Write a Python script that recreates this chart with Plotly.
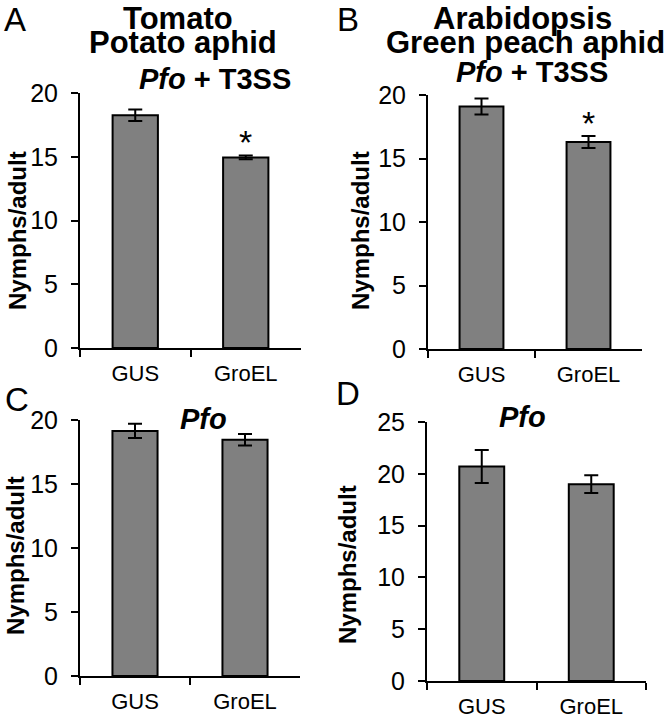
import plotly.graph_objects as go

# ---------------- data ----------------
categories = ["GUS", "GroEL"]
a_values = [18.25, 14.95]
a_errors = [0.45, 0.15]
b_values = [19.1, 16.3]
b_errors = [0.63, 0.48]
c_values = [19.15, 18.45]
c_errors = [0.55, 0.45]
d_values = [20.7, 19.0]
d_errors = [1.6, 0.85]
a_sig = [False, True]
b_sig = [False, True]
y_ticks_20 = [0, 5, 10, 15, 20]
y_ticks_25 = [0, 5, 10, 15, 20, 25]
y_label = "Nymphs/adult"

W, H = 667, 721
FONT = "Liberation Sans, Arial, Helvetica, sans-serif"


def px(x):
    return x / W


def py(y):
    return 1 - y / H


fig = go.Figure()

panels = [
    (a_values, a_errors, a_sig, (80, 301), (93, 348), 20, y_ticks_20),
    (b_values, b_errors, b_sig, (428, 642), (95, 349), 20, y_ticks_20),
    (c_values, c_errors, None, (80, 300), (420, 676), 20, y_ticks_20),
    (d_values, d_errors, None, (427, 646), (422, 681), 25, y_ticks_25),
]

annotations = []
for i, (vals, errs, sig, xd, yd, ymax, ticks) in enumerate(panels):
    n = "" if i == 0 else str(i + 1)
    fig.add_trace(go.Bar(
        x=categories, y=vals, width=0.41,
        marker=dict(color="#808080", line=dict(color="black", width=2)),
        error_y=dict(type="data", array=errs, color="black", thickness=2, width=7),
        xaxis="x" + n, yaxis="y" + n, showlegend=False,
    ))
    fig.update_layout(**{
        "xaxis" + n: dict(
            domain=[px(xd[0]), px(xd[1])], anchor="y" + n,
            type="category", range=[-0.5, 1.5], automargin=False,
            showline=True, linecolor="black", linewidth=2,
            ticks="outside", tickson="boundaries", ticklen=7, tickwidth=2,
            tickcolor="black", showgrid=False, zeroline=False,
            tickfont=dict(family=FONT, size=22, color="black"),
            ticklabelstandoff=5,
        ),
        "yaxis" + n: dict(
            domain=[py(yd[1]), py(yd[0])], anchor="x" + n,
            range=[0, ymax], tickvals=ticks, automargin=False,
            showline=True, linecolor="black", linewidth=2,
            ticks="outside", ticklen=7, tickwidth=2, tickcolor="black",
            showgrid=False, zeroline=False,
            tickfont=dict(family=FONT, size=25, color="black"),
            ticklabelstandoff=8,
        ),
    })
    if sig is not None:
        for c, v, e, s in zip(categories, vals, errs, sig):
            if s:
                annotations.append(dict(
                    x=c, y=v + e, xref="x" + n, yref="y" + n,
                    text="*", showarrow=False, yanchor="bottom",
                    yshift=-8,
                    font=dict(family=FONT, size=34, color="black"),
                ))

# y-axis titles
for (xc, yc) in [(17, 231), (360, 231), (15, 556), (347, 565)]:
    annotations.append(dict(
        x=px(xc), y=py(yc), xref="paper", yref="paper",
        text="<b>" + y_label + "</b>", textangle=-90, showarrow=False,
        xanchor="center", yanchor="middle",
        font=dict(family=FONT, size=24, color="black"),
    ))

# panel letters (top ones anchored to the top edge)
for (t, xl) in [("A", 3), ("B", 336)]:
    annotations.append(dict(
        x=px(xl), y=1, xref="paper", yref="paper", text=t,
        showarrow=False, xanchor="left", yanchor="top", borderpad=0,
        font=dict(family=FONT, size=33, color="black"),
    ))
for (t, xl, yc) in [("C", 3, 399), ("D", 334, 393)]:
    annotations.append(dict(
        x=px(xl), y=py(yc), xref="paper", yref="paper", text=t,
        showarrow=False, xanchor="left", yanchor="middle",
        font=dict(family=FONT, size=33, color="black"),
    ))

# titles
for (t, xc) in [("<b>Tomato</b>", 178), ("<b>Arabidopsis</b>", 522)]:
    annotations.append(dict(
        x=px(xc), y=1, xref="paper", yref="paper", text=t,
        showarrow=False, xanchor="center", yanchor="top", borderpad=0,
        font=dict(family=FONT, size=31, color="black"),
    ))
titles = [
    ("<b>Potato aphid</b>", 183, 43, 31),
    ("<b>Green peach aphid</b>", 525, 43, 31),
    ("<b><i>Pfo</i> + T3SS</b>", 215, 79, 29),
    ("<b><i>Pfo</i> + T3SS</b>", 532, 72, 29),
    ("<b><i>Pfo</i></b>", 203, 419, 29),
    ("<b><i>Pfo</i></b>", 522, 417, 29),
]
for (t, xc, yc, s) in titles:
    annotations.append(dict(
        x=px(xc), y=py(yc), xref="paper", yref="paper", text=t,
        showarrow=False, xanchor="center", yanchor="middle",
        font=dict(family=FONT, size=s, color="black"),
    ))

fig.update_layout(
    width=W, height=H, autosize=False,
    margin=dict(l=0, r=0, t=0, b=0, pad=0),
    paper_bgcolor="white", plot_bgcolor="white",
    annotations=annotations,
    font=dict(family=FONT, color="black"),
)

fig.write_html(
    "out.html",
    config={"displayModeBar": False},
    post_script="document.body.style.margin='0px';document.body.style.padding='0px';document.body.style.overflow='hidden';",
)
